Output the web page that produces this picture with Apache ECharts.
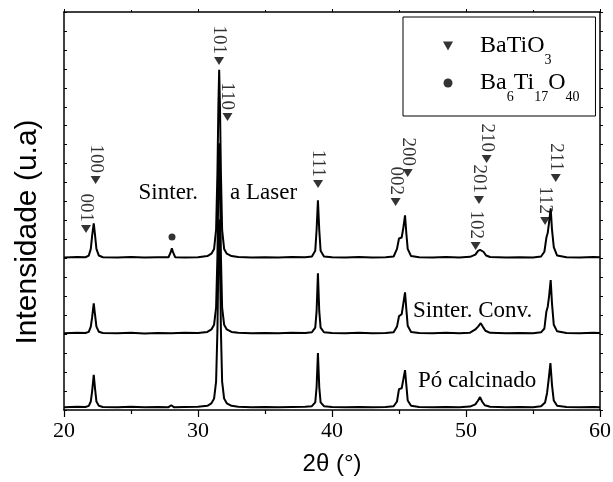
<!DOCTYPE html>
<html>
<head>
<meta charset="utf-8">
<script src="https://cdn.jsdelivr.net/npm/echarts@6.0.0/dist/echarts.min.js"></script>
<style>
html, body { margin: 0; padding: 0; background: #fff; }
#chart { width: 613px; height: 482px; }
</style>
</head>
<body>
<div id="chart"></div>
<script>
// Difratogramas de raios X (2θ, intensidade com deslocamento vertical)

var poCalcinado = [
  [20,15],[21,17],[21.6,16],[21.85,22],[22.0,45],[22.1,100],[22.22,185],[22.32,110],[22.42,45],[22.6,22],[22.9,16],
  [24,15],[25,17],[26,14],[27,16],[27.8,15],[28.0,25],[28.2,15],[29,16],[30,17],
  [30.7,22],[31.0,35],[31.2,60],[31.35,150],[31.45,420],[31.52,800],[31.58,1005],[31.64,800],[31.71,420],[31.8,150],[31.95,60],[32.15,35],[32.5,22],
  [33,17],[34,15],[35,16],[36,15],[37,16],[38,17],
  [38.5,20],[38.75,40],[38.85,120],[38.95,300],[39.05,120],[39.15,40],[39.4,20],
  [40,16],[41,15],[42,16],[43,15],[44,16],
  [44.6,20],[44.85,45],[45.0,110],[45.1,120],[45.2,115],[45.32,160],[45.45,210],[45.55,130],[45.65,50],[45.9,22],
  [46.5,16],[47.5,15],[48.5,16],[49.5,15],
  [50.3,18],[50.7,30],[50.9,50],[51.05,68],[51.2,45],[51.4,25],[51.8,17],
  [53,15],[54,16],[55,15],
  [55.6,20],[55.9,40],[56.05,90],[56.15,150],[56.3,247],[56.42,130],[56.55,50],[56.8,22],
  [57.5,16],[58.5,15],[59.5,16],[60,15]
];

var sinterConv = [
  [20,405],[21,407],[21.6,406],[21.85,412],[22.0,440],[22.1,490],[22.22,563],[22.32,500],[22.42,440],[22.6,413],[22.9,406],
  [24,405],[25,407],[26,404],[27,406],[28,405],[29,407],[30,406],
  [30.7,412],[31.0,425],[31.2,450],[31.35,540],[31.45,810],[31.52,1200],[31.58,1408],[31.64,1200],[31.71,810],[31.8,540],[31.95,450],[32.15,425],[32.5,412],
  [33,407],[34,405],[35,406],[36,405],[37,407],[38,406],
  [38.5,410],[38.75,435],[38.85,520],[38.95,722],[39.05,520],[39.15,435],[39.4,410],
  [40,406],[41,405],[42,407],[43,405],[44,406],
  [44.6,410],[44.85,440],[45.0,495],[45.1,500],[45.2,505],[45.32,560],[45.45,621],[45.55,530],[45.65,445],[45.9,412],
  [46.5,406],[47.5,405],[48.5,407],[49.5,405],
  [50.3,408],[50.7,425],[50.9,440],[51.1,458],[51.25,440],[51.45,418],[51.8,407],
  [53,405],[54,406],[55,405],
  [55.6,410],[55.85,430],[56.0,520],[56.1,545],[56.2,600],[56.32,685],[56.42,560],[56.55,450],[56.8,415],
  [57.5,406],[58.5,405],[59.5,407],[60,406]
];

var sinterLaser = [
  [20,805],[21,807],[21.6,806],[21.85,815],[22.0,850],[22.1,920],[22.22,985],[22.32,920],[22.42,850],[22.6,815],[22.9,806],
  [24,805],[25,807],[26,804],[27,806],[27.8,806],[27.95,830],[28.05,853],[28.15,830],[28.3,806],[29,805],[30,806],
  [30.7,812],[31.0,825],[31.2,850],[31.35,950],[31.45,1250],[31.52,1600],[31.58,1795],[31.64,1600],[31.71,1250],[31.8,950],[31.95,850],[32.15,825],[32.5,812],
  [33,807],[34,805],[35,806],[36,805],[37,807],[38,806],
  [38.5,810],[38.75,840],[38.85,950],[38.95,1106],[39.05,950],[39.15,840],[39.4,810],
  [40,806],[41,805],[42,807],[43,805],[44,806],
  [44.6,810],[44.85,850],[45.0,905],[45.1,911],[45.2,910],[45.32,960],[45.45,1027],[45.55,930],[45.65,850],[45.9,812],
  [46.5,806],[47.5,805],[48.5,807],[49.5,805],
  [50.3,808],[50.7,820],[50.9,840],[51.05,845],[51.15,853],[51.3,835],[51.5,815],[51.8,807],
  [53,805],[54,806],[55,805],
  [55.6,810],[55.85,835],[56.0,910],[56.1,935],[56.2,990],[56.32,1064],[56.42,950],[56.55,860],[56.8,815],
  [57.5,806],[58.5,805],[59.5,807],[60,806]
];

// marcadores dos picos (BaTiO3)
var hklNames = ['001','100','101','110','111','002','200','102','201','210','112','211'];
var hklX = [21.64, 22.36, 31.57, 32.2, 38.96, 44.75, 45.65, 50.72, 50.97, 51.54, 55.9, 56.7];
var hklY = [955, 1214, 1842, 1546, 1193, 1098, 1251, 865, 1108, 1325, 997, 1224];

// fase secundária Ba6Ti17O40
var fase2X = [28.06];
var fase2Y = [913];

var serif = 'Liberation Serif';
var sans = 'Liberation Sans';

var myChart = echarts.init(document.getElementById('chart'), null, { renderer: 'canvas' });

var hklData = [];
for (var i = 0; i < hklNames.length; i++) {
  hklData.push({ name: hklNames[i], value: [hklX[i], hklY[i]] });
}
var fase2Data = [];
for (var j = 0; j < fase2X.length; j++) {
  fase2Data.push([fase2X[j], fase2Y[j]]);
}

function traceSeries(data) {
  return {
    type: 'line',
    data: data,
    xAxisIndex: 0,
    yAxisIndex: 0,
    showSymbol: false,
    symbol: 'none',
    silent: true,
    lineStyle: { color: '#000', width: 2 },
    z: 3
  };
}

var option = {
  animation: false,
  backgroundColor: '#fff',
  grid: { left: 64, right: 13, top: 12, bottom: 72, outerBoundsMode: 'none' },
  legend: {
    left: 403,
    top: 17,
    orient: 'vertical',
    padding: [17, 16, 12, 40],
    itemGap: 4,
    itemWidth: 10,
    itemHeight: 9,
    borderColor: '#000',
    borderWidth: 1,
    borderRadius: 0,
    backgroundColor: '#fff',
    selectedMode: false,
    data: [
      { name: 'BaTiO3', icon: 'path://M0,0L10,0L5,9Z' },
      { name: 'Ba6Ti17O40', icon: 'circle' }
    ],
    formatter: function (name) {
      if (name === 'BaTiO3') return '{g|}{t|BaTiO}{s|3}';
      return '{g|}{t|Ba}{s|6}{t|Ti}{s|17}{t|O}{s|40}';
    },
    textStyle: {
      rich: {
        g: { width: 22 },
        t: { fontFamily: serif, fontSize: 24, color: '#000' },
        s: { fontFamily: serif, fontSize: 14, color: '#000', padding: [28, 0, 0, 0] }
      }
    }
  },
  xAxis: [
    {
      type: 'value',
      min: 20, max: 60, interval: 10,
      axisLine: { show: true, onZero: false, lineStyle: { color: '#000', width: 1.5 } },
      axisTick: { show: true, inside: false, length: 7, lineStyle: { color: '#000', width: 1.2 } },
      minorTick: { show: true, splitNumber: 2, length: 4, lineStyle: { color: '#000', width: 1.2 } },
      axisLabel: { show: true, margin: 10, fontFamily: serif, fontSize: 22, color: '#000', showMinLabel: true, showMaxLabel: true },
      splitLine: { show: false }
    },
    {
      type: 'value', position: 'top',
      min: 20, max: 60, interval: 10,
      axisLine: { show: true, onZero: false, lineStyle: { color: '#000', width: 1.5 } },
      axisTick: { show: true, inside: false, length: 3, lineStyle: { color: '#000', width: 1 } },
      minorTick: { show: true, splitNumber: 2, length: 2, lineStyle: { color: '#000' } },
      axisLabel: { show: false },
      splitLine: { show: false }
    }
  ],
  yAxis: [
    {
      type: 'value',
      min: 0, max: 2100, interval: 100,
      axisLine: { show: true, onZero: false, lineStyle: { color: '#000', width: 1.5 } },
      axisTick: { show: true, inside: true, length: 3, lineStyle: { color: '#000', width: 1 } },
      axisLabel: { show: false },
      splitLine: { show: false }
    },
    {
      type: 'value', position: 'right',
      min: 0, max: 2100, interval: 100,
      axisLine: { show: true, onZero: false, lineStyle: { color: '#000', width: 1.5 } },
      axisTick: { show: true, inside: false, length: 3, lineStyle: { color: '#000', width: 1 } },
      axisLabel: { show: false },
      splitLine: { show: false }
    }
  ],
  series: [
    traceSeries(poCalcinado),
    traceSeries(sinterConv),
    traceSeries(sinterLaser),
    {
      name: 'BaTiO3',
      type: 'scatter',
      data: hklData,
      symbol: 'triangle',
      symbolRotate: 180,
      symbolSize: [10, 8],
      itemStyle: { color: '#000' },
      silent: true,
      z: 4,
      label: {
        show: true,
        formatter: '{b}',
        position: 'top',
        distance: 3,
        rotate: -90,
        align: 'right',
        verticalAlign: 'middle',
        fontFamily: serif,
        fontSize: 19,
        color: '#000'
      }
    },
    {
      name: 'Ba6Ti17O40',
      type: 'scatter',
      data: fase2Data,
      symbol: 'circle',
      symbolSize: 7,
      itemStyle: { color: '#000' },
      silent: true,
      z: 4
    }
  ],
  graphic: [
    { type: 'text', x: 198, y: 193, style: { text: 'Sinter.', fontFamily: serif, fontSize: 23, fill: '#000', align: 'right', verticalAlign: 'middle' } },
    { type: 'text', x: 230, y: 193, style: { text: 'a Laser', fontFamily: serif, fontSize: 23, fill: '#000', align: 'left', verticalAlign: 'middle' } },
    { type: 'text', x: 413, y: 311, style: { text: 'Sinter. Conv.', fontFamily: serif, fontSize: 23, fill: '#000', align: 'left', verticalAlign: 'middle' } },
    { type: 'text', x: 418, y: 381, style: { text: 'Pó calcinado', fontFamily: serif, fontSize: 23, fill: '#000', align: 'left', verticalAlign: 'middle' } },
    { type: 'text', x: 332, y: 464, style: { text: '2θ (°)', fontFamily: sans, fontSize: 24, fill: '#000', align: 'center', verticalAlign: 'middle' } },
    { type: 'text', x: 28, y: 232, rotation: Math.PI / 2, style: { text: 'Intensidade (u.a)', fontFamily: sans, fontSize: 30, fill: '#000', align: 'center', verticalAlign: 'middle' } }
  ]
};

myChart.setOption(option);
</script>
</body>
</html>
